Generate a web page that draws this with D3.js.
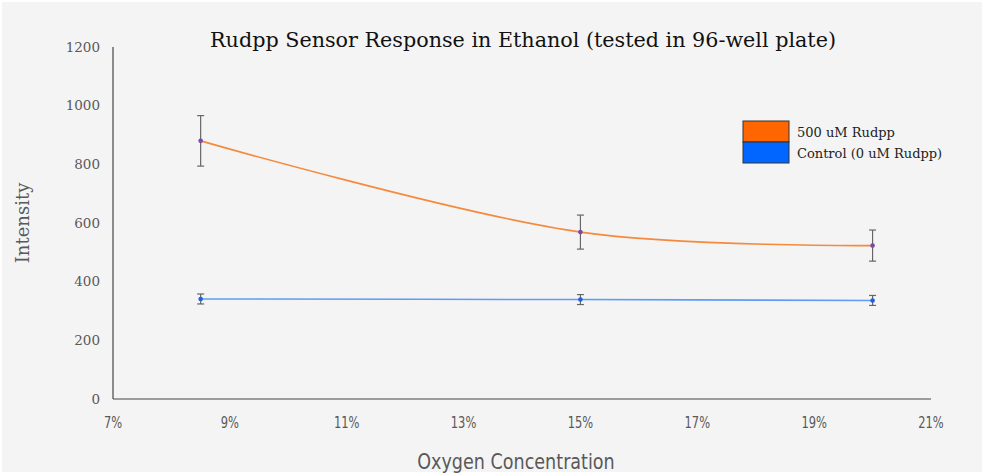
<!DOCTYPE html>
<html>
<head>
<meta charset="utf-8">
<script src="https://cdn.jsdelivr.net/npm/d3@7"></script>
<style>
  body { margin: 0; background: #ffffff; }
  .serif { font-family: "DejaVu Serif", "Liberation Serif", serif; }
  .narrow { font-family: "Liberation Sans Narrow", "DejaVu Sans Condensed", "DejaVu Sans", sans-serif; }
</style>
</head>
<body>
<svg id="chart"></svg>
<script>
'use strict'

// oxygen concentration (%)
const oxygen = [8.5, 15, 20]
const rudppMean = [880, 569, 523]
const rudppErr = [86, 58, 53]
const controlMean = [341, 339, 336]
const controlErr = [17, 17, 17]
const xTicks = [7, 9, 11, 13, 15, 17, 19, 21]
const yTicks = [0, 200, 400, 600, 800, 1000, 1200]
const seriesNames = ['500 uM Rudpp', 'Control (0 uM Rudpp)']

const width = 984, height = 474
const margin = { top: 47, right: 53, bottom: 75, left: 113 }
const plotW = width - margin.left - margin.right
const plotH = height - margin.top - margin.bottom

const svg = d3.select('#chart').attr('width', width).attr('height', height)

svg.append('rect')
  .attr('x', 2).attr('y', 2)
  .attr('width', width - 4).attr('height', height - 4)
  .attr('fill', '#f4f4f4')

const g = svg.append('g')
  .attr('transform', 'translate(' + margin.left + ',' + margin.top + ')')

const xScale = d3.scaleLinear().domain([7, 21]).range([0, plotW])
const yScale = d3.scaleLinear().domain([0, 1200]).range([plotH, 0])

// axes
g.append('line')
  .attr('x1', 0).attr('x2', 0).attr('y1', 0).attr('y2', plotH)
  .attr('stroke', '#222').attr('stroke-width', 1)
g.append('line')
  .attr('x1', 0).attr('x2', plotW).attr('y1', plotH).attr('y2', plotH)
  .attr('stroke', '#444').attr('stroke-width', 1.2)

g.selectAll('.ytick')
  .data(yTicks)
  .enter()
  .append('text')
    .attr('class', 'serif')
    .attr('x', -13)
    .attr('y', d => yScale(d))
    .attr('dy', '0.35em')
    .attr('text-anchor', 'end')
    .attr('font-size', 13.5)
    .attr('fill', '#595959')
    .text(d => d)

g.selectAll('.xtick')
  .data(xTicks)
  .enter()
  .append('text')
    .attr('class', 'narrow')
    .attr('transform', d => 'translate(' + xScale(d) + ',' + (plotH + 29) + ') scale(0.85,1)')
    .attr('text-anchor', 'middle')
    .attr('font-size', 15)
    .attr('fill', '#595959')
    .text(d => d + '%')

// title and axis labels
svg.append('text')
  .attr('class', 'serif')
  .attr('x', 523).attr('y', 47)
  .attr('text-anchor', 'middle')
  .attr('font-size', 20.7)
  .attr('fill', '#111')
  .text('Rudpp Sensor Response in Ethanol (tested in 96-well plate)')

svg.append('text')
  .attr('class', 'serif')
  .attr('transform', 'translate(29,223) rotate(-90)')
  .attr('text-anchor', 'middle')
  .attr('font-size', 18)
  .attr('fill', '#595959')
  .text('Intensity')

svg.append('text')
  .attr('class', 'narrow')
  .attr('transform', 'translate(516,469) scale(0.93,1)')
  .attr('text-anchor', 'middle')
  .attr('font-size', 21)
  .attr('fill', '#595959')
  .text('Oxygen Concentration')

function drawSeries (means, errs, lineColor, dotColor) {
  let pts = oxygen.map((o, i) => ({ x: o, y: means[i], e: errs[i] }))

  let line = d3.line()
    .x(d => xScale(d.x))
    .y(d => yScale(d.y))
    .curve(d3.curveCatmullRom.alpha(0.5))

  g.append('path')
    .datum(pts)
    .attr('d', line)
    .attr('fill', 'none')
    .attr('stroke', lineColor)
    .attr('stroke-width', 1.6)

  let bars = g.selectAll(null).data(pts).enter().append('g')
  bars.append('line')
    .attr('x1', d => xScale(d.x)).attr('x2', d => xScale(d.x))
    .attr('y1', d => yScale(d.y + d.e)).attr('y2', d => yScale(d.y - d.e))
    .attr('stroke', '#666').attr('stroke-width', 1.2)
  bars.selectAll('.cap')
    .data(d => [d.y + d.e, d.y - d.e].map(v => ({ x: d.x, v: v })))
    .enter()
    .append('line')
      .attr('x1', d => xScale(d.x) - 3.5).attr('x2', d => xScale(d.x) + 3.5)
      .attr('y1', d => yScale(d.v)).attr('y2', d => yScale(d.v))
      .attr('stroke', '#666').attr('stroke-width', 1.2)
  bars.append('circle')
    .attr('cx', d => xScale(d.x)).attr('cy', d => yScale(d.y))
    .attr('r', 2.3)
    .attr('fill', dotColor)
}

drawSeries(rudppMean, rudppErr, '#f58a3c', '#7b4aa8')
drawSeries(controlMean, controlErr, '#5e9cf5', '#1f5fe0')

// legend
const legendColors = ['#ff6600', '#0066ff']
const legend = svg.append('g').attr('transform', 'translate(743,121)')
legend.selectAll('rect')
  .data(seriesNames)
  .enter()
  .append('rect')
    .attr('x', 0).attr('y', (d, i) => i * 21)
    .attr('width', 46).attr('height', 21)
    .attr('fill', (d, i) => legendColors[i])
    .attr('stroke', '#333').attr('stroke-width', 1)
legend.selectAll('text')
  .data(seriesNames)
  .enter()
  .append('text')
    .attr('class', 'serif')
    .attr('x', 54).attr('y', (d, i) => i * 21 + 11)
    .attr('dy', '0.35em')
    .attr('font-size', 13)
    .attr('fill', '#222')
    .text(d => d)
</script>
</body>
</html>
